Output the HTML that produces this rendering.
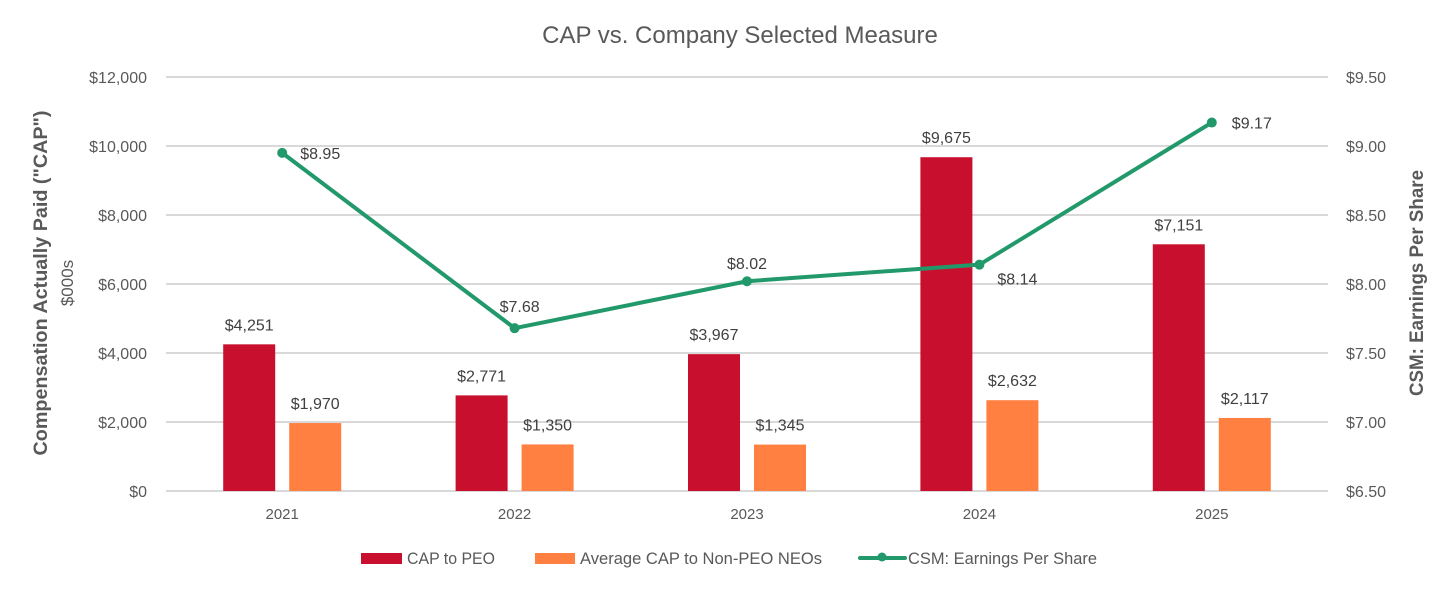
<!DOCTYPE html>
<html><head><meta charset="utf-8"><style>
body{margin:0;background:#fff;}
svg text{font-family:"Liberation Sans",sans-serif;}
</style></head><body>
<svg id="chart" width="1451" height="586" xmlns="http://www.w3.org/2000/svg">
<rect width="1451" height="586" fill="#fff"/>
<text x="740" y="43" font-size="24" fill="#595959" text-anchor="middle">CAP vs. Company Selected Measure</text>
<g id="grid"></g><g id="bars"></g><g id="line"></g><g id="axes"></g>
<text transform="translate(47,283) rotate(-90)" font-size="19" font-weight="bold" fill="#595959" text-anchor="middle" textLength="345" lengthAdjust="spacingAndGlyphs">Compensation Actually Paid ("CAP")</text>
<text transform="translate(73,283) rotate(-90)" font-size="17" fill="#595959" text-anchor="middle">$000s</text>
<text transform="translate(1423,283) rotate(-90)" font-size="19" font-weight="bold" fill="#595959" text-anchor="middle" textLength="226" lengthAdjust="spacingAndGlyphs">CSM: Earnings Per Share</text>
<g font-size="17" fill="#595959">
<rect x="361" y="553" width="41" height="11" fill="#C8102E"/>
<text x="407" y="564" textLength="88" lengthAdjust="spacingAndGlyphs">CAP to PEO</text>
<rect x="535" y="553" width="40" height="11" fill="#FF8040"/>
<text x="580" y="564" textLength="242" lengthAdjust="spacingAndGlyphs">Average CAP to Non-PEO NEOs</text>
<line x1="860" y1="558" x2="905" y2="558" stroke="#22996B" stroke-width="4" stroke-linecap="round"/>
<circle cx="882" cy="557" r="4.5" fill="#22996B"/>
<text x="908" y="564" textLength="189" lengthAdjust="spacingAndGlyphs">CSM: Earnings Per Share</text>
</g>
</svg>
<script>
const years=["2021","2022","2023","2024","2025"];
const capPeo=[4251,2771,3967,9675,7151];
const capNeo=[1970,1350,1345,2632,2117];
const eps=[8.95,7.68,8.02,8.14,9.17];
const leftTicks=[0,2000,4000,6000,8000,10000,12000];
const rightTicks=[6.5,7.0,7.5,8.0,8.5,9.0,9.5];
const NS="http://www.w3.org/2000/svg";
const X0=166,X1=1328,Y0=491,Y1=77;
const bw=(X1-X0)/years.length;
const xc=i=>X0+bw*(i+0.5);
const yL=v=>Y0-(v/12000)*(Y0-Y1);
const yR=v=>Y0-((v-6.5)/3)*(Y0-Y1);
function mk(tag,attrs,parent,txt){const e=document.createElementNS(NS,tag);for(const k in attrs)e.setAttribute(k,attrs[k]);if(txt!==undefined)e.textContent=txt;document.getElementById(parent).appendChild(e);return e;}
const fmt=v=>"$"+v.toLocaleString("en-US");
leftTicks.forEach((t,i)=>{
 const g=mk("line",{x1:X0,x2:X1,y1:yL(t),y2:yL(t),stroke:"#D9D9D9","stroke-width":2},"grid");
 
 
 const l=mk("text",{x:147,y:yL(t)+6,"font-size":16,fill:"#595959","text-anchor":"end"},"axes",fmt(t));
 
 
});
rightTicks.forEach(t=>{
 const l=mk("text",{x:1346,y:yR(t)+6,"font-size":16,fill:"#595959"},"axes","$"+t.toFixed(2));
 
 
});
years.forEach((y,i)=>{
 const l=mk("text",{x:xc(i),y:519,"font-size":15,fill:"#595959","text-anchor":"middle"},"axes",y);
 
 
 const b1=mk("rect",{x:xc(i)-59,y:yL(capPeo[i]),width:52,height:Y0-yL(capPeo[i]),fill:"#C8102E"},"bars");
 
 
 const t1=mk("text",{x:xc(i)-33,y:yL(capPeo[i])-14,"font-size":16,fill:"#404040","text-anchor":"middle"},"bars",fmt(capPeo[i]));
 
 
 const b2=mk("rect",{x:xc(i)+7,y:yL(capNeo[i]),width:52,height:Y0-yL(capNeo[i]),fill:"#FF8040"},"bars");
 
 
 const t2=mk("text",{x:xc(i)+33,y:yL(capNeo[i])-14,"font-size":16,fill:"#404040","text-anchor":"middle"},"bars",fmt(capNeo[i]));
 
 
});
const pl=mk("polyline",{points:eps.map((v,i)=>xc(i)+","+yR(v)).join(" "),fill:"none",stroke:"#22996B","stroke-width":4,"stroke-linejoin":"round"},"line");


const off=[[18,6,"start"],[-15,-16,"start"],[0,-12,"middle"],[18,20,"start"],[20,6,"start"]];
eps.forEach((v,i)=>{
 const c=mk("circle",{cx:xc(i),cy:yR(v),r:5,fill:"#22996B"},"line");
 
 
 const t=mk("text",{x:xc(i)+off[i][0],y:yR(v)+off[i][1],"font-size":16,fill:"#404040","text-anchor":off[i][2]},"line","$"+v.toFixed(2));
 
 
});
</script>
</body></html>
